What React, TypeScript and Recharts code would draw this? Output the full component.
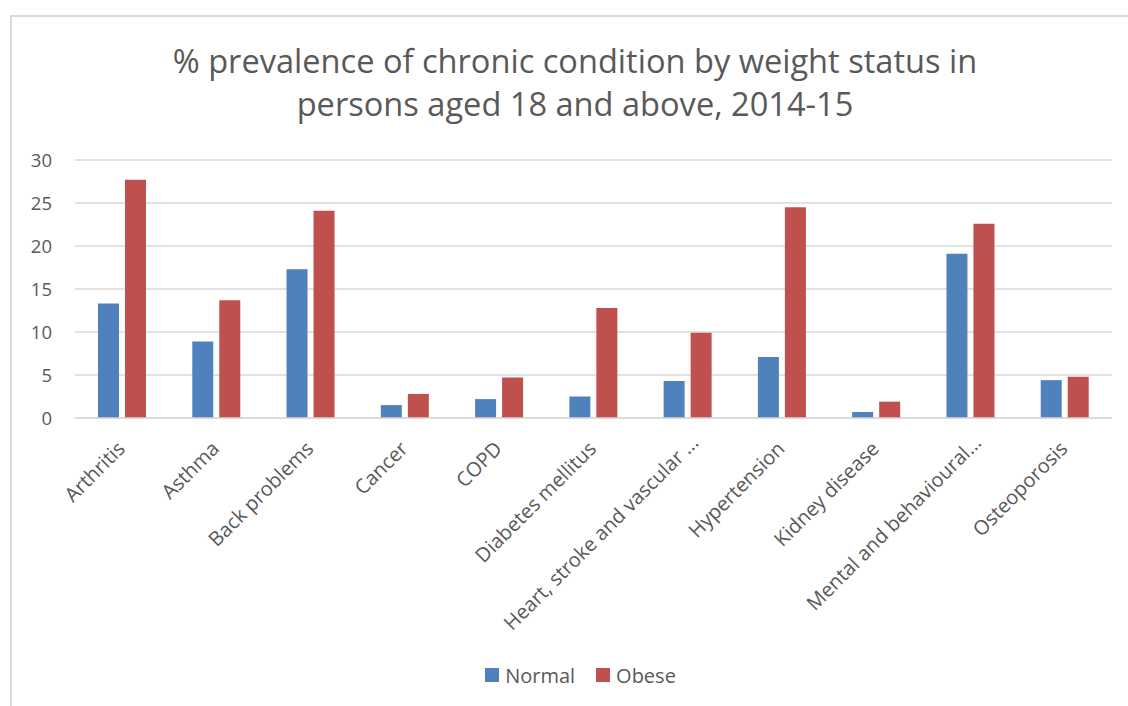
import React from 'react';
import { BarChart, Bar, XAxis, YAxis, CartesianGrid, Legend } from 'recharts';

const categories = [
  'Arthritis',
  'Asthma',
  'Back problems',
  'Cancer',
  'COPD',
  'Diabetes mellitus',
  'Heart, stroke and vascular ...',
  'Hypertension',
  'Kidney disease',
  'Mental and behavioural...',
  'Osteoporosis',
];
const normalValues = [13.3, 8.9, 17.3, 1.5, 2.2, 2.5, 4.3, 7.1, 0.7, 19.1, 4.4];
const obeseValues = [27.7, 13.7, 24.1, 2.8, 4.7, 12.8, 9.9, 24.5, 1.9, 22.6, 4.8];
const yTicks = [0, 5, 10, 15, 20, 25, 30];
const seriesNames = ['Normal', 'Obese'];
const titleLines = [
  '% prevalence of chronic condition by weight status in',
  'persons aged 18 and above, 2014-15',
];

const data = categories.map((c, i) => ({
  name: c,
  Normal: normalValues[i],
  Obese: obeseValues[i],
}));

const BLUE = '#4F81BD';
const RED = '#C0504D';
const TEXT = '#595959';
const GRID = '#d9d9d9';
const FONT = '"Open Sans", sans-serif';

const XTick = (props: any) => {
  const { x, y, payload } = props;
  const truncated = String(payload.value).endsWith('...');
  const dx = truncated ? 12 : 4;
  const dy = truncated ? 26 : 32;
  return (
    <g transform={`translate(${x + dx},${y + dy})`}>
      <text transform="rotate(-45)" textAnchor="end" fontSize={20} fill={TEXT} fontFamily={FONT}>
        {payload.value}
      </text>
    </g>
  );
};

const LegendContent = () => (
  <div
    style={{
      height: 30,
      display: 'flex',
      alignItems: 'center',
      justifyContent: 'center',
      paddingLeft: 34,
      fontFamily: FONT,
      fontSize: 20,
      color: TEXT,
    }}
  >
    {seriesNames.map((n, i) => (
      <div key={n} style={{ display: 'flex', alignItems: 'center', marginLeft: i === 0 ? 0 : 21 }}>
        <div style={{ width: 14, height: 14, background: i === 0 ? BLUE : RED, marginRight: 6 }} />
        <span>{n}</span>
      </div>
    ))}
  </div>
);

export default function App() {
  return (
    <div style={{ position: 'absolute', left: 0, top: 0, width: 1128, height: 706, overflow: 'hidden', background: '#fff' }}>
      <div
        style={{
          position: 'absolute',
          left: 10,
          top: 15,
          width: 1140,
          height: 720,
          border: `2px solid ${GRID}`,
          boxSizing: 'border-box',
        }}
      />
      <div style={{ position: 'absolute', left: 0, top: 0 }}>
        <BarChart
          width={1128}
          height={706}
          data={data}
          margin={{ top: 160, right: 16, bottom: 16, left: 15 }}
          barSize={21}
          barGap={6}
        >
          <CartesianGrid vertical={false} stroke={GRID} strokeWidth={1.5} />
          <XAxis
            dataKey="name"
            interval={0}
            height={242}
            tickLine={false}
            tickSize={0}
            tickMargin={0}
            axisLine={{ stroke: GRID, strokeWidth: 1.5 }}
            tick={<XTick />}
          />
          <YAxis
            width={60}
            domain={[0, 30]}
            ticks={yTicks}
            axisLine={false}
            tickLine={false}
            tickSize={0}
            tickMargin={23}
            tick={{ fontSize: 18.5, fill: TEXT, fontFamily: FONT }}
          />
          <Legend verticalAlign="bottom" height={30} content={<LegendContent />} />
          <Bar dataKey="Normal" fill={BLUE} isAnimationActive={false} />
          <Bar dataKey="Obese" fill={RED} isAnimationActive={false} />
        </BarChart>
      </div>
      <svg width={1128} height={140} style={{ position: 'absolute', left: 0, top: 0, pointerEvents: 'none' }}>
        {titleLines.map((t, i) => (
          <text key={i} x={575} y={73 + i * 43} textAnchor="middle" fontSize={32.6} fill={TEXT} fontFamily={FONT}>
            {t}
          </text>
        ))}
      </svg>
    </div>
  );
}
